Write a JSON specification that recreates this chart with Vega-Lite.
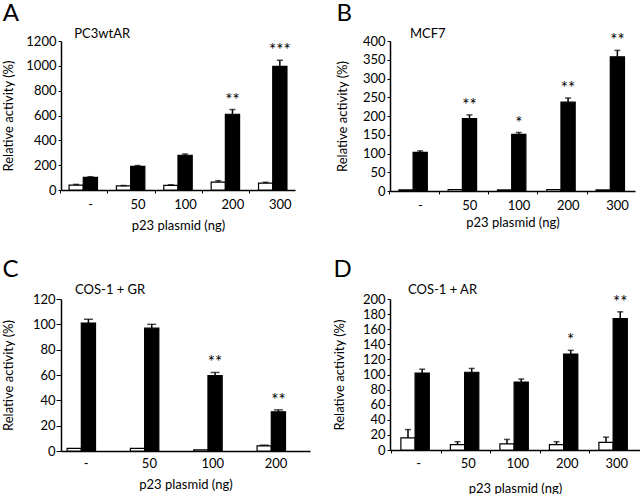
{
 "$schema": "https://vega.github.io/schema/vega-lite/v6.json",
 "padding": {"left": 2, "top": 2, "right": 0, "bottom": 0},
 "background": "white",
 "config": {
  "font": "Lato",
  "view": {"stroke": null},
  "axis": {"labelFont": "Lato", "titleFont": "Lato", "labelFontSize": 13, "titleFontSize": 13, "titleFontWeight": "normal", "labelColor": "black", "titleColor": "black", "domainColor": "black", "tickColor": "black", "domainWidth": 1.5, "tickWidth": 1, "grid": false, "labelOverlap": false},
  "axisY": {"format": "d", "labelOverlap": false, "labelPadding": 2},
  "title": {"font": "Lato", "fontSize": 24, "fontWeight": "normal", "anchor": "start", "frame": "bounds", "color": "black"}
 },
 "datasets": {
  "bars": [
   {"panel": "A", "dose": "-", "series": "vehicle", "value": 40, "hi": 45, "star": ""},
   {"panel": "A", "dose": "-", "series": "hormone", "value": 102, "hi": 107, "star": ""},
   {"panel": "A", "dose": "50", "series": "vehicle", "value": 33, "hi": 36, "star": ""},
   {"panel": "A", "dose": "50", "series": "hormone", "value": 190, "hi": 197, "star": ""},
   {"panel": "A", "dose": "100", "series": "vehicle", "value": 38, "hi": 42, "star": ""},
   {"panel": "A", "dose": "100", "series": "hormone", "value": 280, "hi": 290, "star": ""},
   {"panel": "A", "dose": "200", "series": "vehicle", "value": 63, "hi": 75, "star": ""},
   {"panel": "A", "dose": "200", "series": "hormone", "value": 610, "hi": 648, "star": "**"},
   {"panel": "A", "dose": "300", "series": "vehicle", "value": 55, "hi": 62, "star": ""},
   {"panel": "A", "dose": "300", "series": "hormone", "value": 995, "hi": 1045, "star": "***"},
   {"panel": "B", "dose": "-", "series": "vehicle", "value": 3, "hi": 3, "star": ""},
   {"panel": "B", "dose": "-", "series": "hormone", "value": 103, "hi": 107, "star": ""},
   {"panel": "B", "dose": "50", "series": "vehicle", "value": 4, "hi": 4, "star": ""},
   {"panel": "B", "dose": "50", "series": "hormone", "value": 193, "hi": 203, "star": "**"},
   {"panel": "B", "dose": "100", "series": "vehicle", "value": 3, "hi": 3, "star": ""},
   {"panel": "B", "dose": "100", "series": "hormone", "value": 151, "hi": 156, "star": "*"},
   {"panel": "B", "dose": "200", "series": "vehicle", "value": 4, "hi": 4, "star": ""},
   {"panel": "B", "dose": "200", "series": "hormone", "value": 237, "hi": 248, "star": "**"},
   {"panel": "B", "dose": "300", "series": "vehicle", "value": 3, "hi": 3, "star": ""},
   {"panel": "B", "dose": "300", "series": "hormone", "value": 358, "hi": 375, "star": "**"},
   {"panel": "C", "dose": "-", "series": "vehicle", "value": 2, "hi": 2, "star": ""},
   {"panel": "C", "dose": "-", "series": "hormone", "value": 101, "hi": 104, "star": ""},
   {"panel": "C", "dose": "50", "series": "vehicle", "value": 2, "hi": 2, "star": ""},
   {"panel": "C", "dose": "50", "series": "hormone", "value": 97, "hi": 100, "star": ""},
   {"panel": "C", "dose": "100", "series": "vehicle", "value": 1, "hi": 1, "star": ""},
   {"panel": "C", "dose": "100", "series": "hormone", "value": 59.5, "hi": 62, "star": "**"},
   {"panel": "C", "dose": "200", "series": "vehicle", "value": 4, "hi": 4.6, "star": ""},
   {"panel": "C", "dose": "200", "series": "hormone", "value": 31, "hi": 32.5, "star": "**"},
   {"panel": "D", "dose": "-", "series": "vehicle", "value": 16, "hi": 27, "star": ""},
   {"panel": "D", "dose": "-", "series": "hormone", "value": 102, "hi": 107, "star": ""},
   {"panel": "D", "dose": "50", "series": "vehicle", "value": 7, "hi": 11, "star": ""},
   {"panel": "D", "dose": "50", "series": "hormone", "value": 103, "hi": 108, "star": ""},
   {"panel": "D", "dose": "100", "series": "vehicle", "value": 8, "hi": 14, "star": ""},
   {"panel": "D", "dose": "100", "series": "hormone", "value": 90, "hi": 94, "star": ""},
   {"panel": "D", "dose": "200", "series": "vehicle", "value": 7, "hi": 11, "star": ""},
   {"panel": "D", "dose": "200", "series": "hormone", "value": 127, "hi": 132, "star": "*"},
   {"panel": "D", "dose": "300", "series": "vehicle", "value": 10, "hi": 17, "star": ""},
   {"panel": "D", "dose": "300", "series": "hormone", "value": 174, "hi": 183, "star": "**"}
  ],
  "notes": [
   {"panel": "A", "label": "PC3wtAR"},
   {"panel": "B", "label": "MCF7"},
   {"panel": "C", "label": "COS-1 + GR"},
   {"panel": "D", "label": "COS-1 + AR"}
  ]
 },
 "vconcat": [
  {"hconcat": [
   {
    "width": 234, "height": 149,
    "title": {"text": "A", "offset": 2},
    "encoding": {"x": {"field": "dose", "type": "nominal", "sort": ["-", "50", "100", "200", "300"], "scale": {"paddingInner": 0.4, "paddingOuter": 0.17}, "axis": {"title": "p23 plasmid (ng)", "labelAngle": 0, "tickSize": 3, "bandPosition": 0.5, "tickOffset": -23.5, "labelOffset": 30.5, "labelPadding": 5, "titlePadding": 8}}},
    "layer": [
     {"data": {"name": "bars"}, "transform": [{"filter": "datum.panel == 'A'"}],
      "mark": {"type": "bar", "stroke": "black", "strokeWidth": 1.2},
      "encoding": {
       "xOffset": {"field": "series", "type": "nominal", "sort": ["vehicle", "hormone"], "scale": {"domain": ["vehicle", "hormone"], "paddingInner": 0, "paddingOuter": 0}},
       "y": {"field": "value", "type": "quantitative", "scale": {"domain": [0, 1200], "nice": false}, "axis": {"title": "Relative activity (%)", "values": [0, 200, 400, 600, 800, 1000, 1200], "format": "d", "labelOverlap": false, "tickSize": 3, "titlePadding": 10}},
       "fill": {"field": "series", "type": "nominal", "scale": {"domain": ["vehicle", "hormone"], "range": ["white", "black"]}, "legend": null}}},
     {"data": {"name": "bars"}, "transform": [{"filter": "datum.panel == 'A'"}],
      "mark": {"type": "rule", "color": "black", "strokeWidth": 1.5},
      "encoding": {"xOffset": {"field": "series", "type": "nominal"}, "y": {"field": "value", "type": "quantitative", "axis": {"title": "Relative activity (%)", "values": [0, 200, 400, 600, 800, 1000, 1200], "format": "d", "labelOverlap": false, "tickSize": 3, "titlePadding": 10}}, "y2": {"field": "hi"}}},
     {"data": {"name": "bars"}, "transform": [{"filter": "datum.panel == 'A'"}],
      "mark": {"type": "tick", "orient": "horizontal", "color": "black", "size": 6, "thickness": 1.5},
      "encoding": {"xOffset": {"field": "series", "type": "nominal"}, "y": {"field": "hi", "type": "quantitative", "axis": {"title": "Relative activity (%)", "values": [0, 200, 400, 600, 800, 1000, 1200], "format": "d", "labelOverlap": false, "tickSize": 3, "titlePadding": 10}}}},
     {"data": {"name": "bars"}, "transform": [{"filter": "datum.panel == 'A' && datum.star != ''"}],
      "mark": {"type": "text", "baseline": "bottom", "dy": 0, "fontSize": 17, "color": "black"},
      "encoding": {"xOffset": {"field": "series", "type": "nominal"}, "y": {"field": "hi", "type": "quantitative", "axis": {"title": "Relative activity (%)", "values": [0, 200, 400, 600, 800, 1000, 1200], "format": "d", "labelOverlap": false, "tickSize": 3, "titlePadding": 10}}, "text": {"field": "star"}}},
     {"data": {"name": "notes"}, "transform": [{"filter": "datum.panel == 'A'"}],
      "mark": {"type": "text", "align": "left", "baseline": "alphabetic", "dx": -9, "dy": -3, "fontSize": 13, "color": "black"},
      "encoding": {"x": {"datum": "-", "type": "nominal"}, "y": {"datum": 1200, "type": "quantitative", "axis": {"title": "Relative activity (%)", "values": [0, 200, 400, 600, 800, 1000, 1200], "format": "d", "labelOverlap": false, "tickSize": 3, "titlePadding": 10}}, "text": {"field": "label"}}}
    ]
   },
   {
    "width": 245, "height": 150,
    "title": {"text": "B", "offset": 2},
    "encoding": {"x": {"field": "dose", "type": "nominal", "sort": ["-", "50", "100", "200", "300"], "scale": {"paddingInner": 0.39, "paddingOuter": 0.18}, "axis": {"title": "p23 plasmid (ng)", "labelAngle": 0, "tickSize": 3, "bandPosition": 0.5, "tickOffset": -24.5, "labelOffset": 30.5, "labelPadding": 5, "titlePadding": 4}}},
    "layer": [
     {"data": {"name": "bars"}, "transform": [{"filter": "datum.panel == 'B'"}],
      "mark": {"type": "bar", "stroke": "black", "strokeWidth": 1.2},
      "encoding": {
       "xOffset": {"field": "series", "type": "nominal", "sort": ["vehicle", "hormone"], "scale": {"domain": ["vehicle", "hormone"], "paddingInner": 0, "paddingOuter": 0}},
       "y": {"field": "value", "type": "quantitative", "scale": {"domain": [0, 400], "nice": false}, "axis": {"title": "Relative activity (%)", "values": [0, 50, 100, 150, 200, 250, 300, 350, 400], "format": "d", "labelOverlap": false, "tickSize": 3, "titlePadding": 13}},
       "fill": {"field": "series", "type": "nominal", "scale": {"domain": ["vehicle", "hormone"], "range": ["white", "black"]}, "legend": null}}},
     {"data": {"name": "bars"}, "transform": [{"filter": "datum.panel == 'B' && datum.hi > datum.value"}],
      "mark": {"type": "rule", "color": "black", "strokeWidth": 1.5},
      "encoding": {"xOffset": {"field": "series", "type": "nominal"}, "y": {"field": "value", "type": "quantitative", "axis": {"title": "Relative activity (%)", "values": [0, 50, 100, 150, 200, 250, 300, 350, 400], "format": "d", "labelOverlap": false, "tickSize": 3, "titlePadding": 13}}, "y2": {"field": "hi"}}},
     {"data": {"name": "bars"}, "transform": [{"filter": "datum.panel == 'B' && datum.hi > datum.value"}],
      "mark": {"type": "tick", "orient": "horizontal", "color": "black", "size": 6, "thickness": 1.5},
      "encoding": {"xOffset": {"field": "series", "type": "nominal"}, "y": {"field": "hi", "type": "quantitative", "axis": {"title": "Relative activity (%)", "values": [0, 50, 100, 150, 200, 250, 300, 350, 400], "format": "d", "labelOverlap": false, "tickSize": 3, "titlePadding": 13}}}},
     {"data": {"name": "bars"}, "transform": [{"filter": "datum.panel == 'B' && datum.star != ''"}],
      "mark": {"type": "text", "baseline": "bottom", "dy": 0, "fontSize": 17, "color": "black"},
      "encoding": {"xOffset": {"field": "series", "type": "nominal"}, "y": {"field": "hi", "type": "quantitative", "axis": {"title": "Relative activity (%)", "values": [0, 50, 100, 150, 200, 250, 300, 350, 400], "format": "d", "labelOverlap": false, "tickSize": 3, "titlePadding": 13}}, "text": {"field": "star"}}},
     {"data": {"name": "notes"}, "transform": [{"filter": "datum.panel == 'B'"}],
      "mark": {"type": "text", "align": "left", "baseline": "alphabetic", "dx": -4, "dy": -3, "fontSize": 13, "color": "black"},
      "encoding": {"x": {"datum": "-", "type": "nominal"}, "y": {"datum": 400, "type": "quantitative", "axis": {"title": "Relative activity (%)", "values": [0, 50, 100, 150, 200, 250, 300, 350, 400], "format": "d", "labelOverlap": false, "tickSize": 3, "titlePadding": 13}}, "text": {"field": "label"}}}
    ]
   }
  ], "spacing": 41},
  {"hconcat": [
   {
    "width": 249, "height": 152,
    "title": {"text": "C", "offset": 2},
    "encoding": {"x": {"field": "dose", "type": "nominal", "sort": ["-", "50", "100", "200"], "scale": {"paddingInner": 0.4, "paddingOuter": 0.166, "align": 0.29}, "axis": {"title": "p23 plasmid (ng)", "labelAngle": 0, "ticks": false, "labelPadding": 6, "titlePadding": 8}}},
    "layer": [
     {"data": {"name": "bars"}, "transform": [{"filter": "datum.panel == 'C'"}],
      "mark": {"type": "bar", "stroke": "black", "strokeWidth": 1.2},
      "encoding": {
       "xOffset": {"field": "series", "type": "nominal", "sort": ["vehicle", "hormone"], "scale": {"domain": ["vehicle", "hormone"], "paddingInner": 0.4, "paddingOuter": 0}},
       "y": {"field": "value", "type": "quantitative", "scale": {"domain": [0, 120], "nice": false}, "axis": {"title": "Relative activity (%)", "values": [0, 20, 40, 60, 80, 100, 120], "format": "d", "labelOverlap": false, "tickSize": 5, "labelPadding": 1, "titlePadding": 17}},
       "fill": {"field": "series", "type": "nominal", "scale": {"domain": ["vehicle", "hormone"], "range": ["white", "black"]}, "legend": null}}},
     {"data": {"name": "bars"}, "transform": [{"filter": "datum.panel == 'C' && datum.hi > datum.value"}],
      "mark": {"type": "rule", "color": "black", "strokeWidth": 1.5},
      "encoding": {"xOffset": {"field": "series", "type": "nominal"}, "y": {"field": "value", "type": "quantitative", "axis": {"title": "Relative activity (%)", "values": [0, 20, 40, 60, 80, 100, 120], "format": "d", "labelOverlap": false, "tickSize": 5, "labelPadding": 1, "titlePadding": 17}}, "y2": {"field": "hi"}}},
     {"data": {"name": "bars"}, "transform": [{"filter": "datum.panel == 'C' && datum.hi > datum.value"}],
      "mark": {"type": "tick", "orient": "horizontal", "color": "black", "size": 9, "thickness": 1.5},
      "encoding": {"xOffset": {"field": "series", "type": "nominal"}, "y": {"field": "hi", "type": "quantitative", "axis": {"title": "Relative activity (%)", "values": [0, 20, 40, 60, 80, 100, 120], "format": "d", "labelOverlap": false, "tickSize": 5, "labelPadding": 1, "titlePadding": 17}}}},
     {"data": {"name": "bars"}, "transform": [{"filter": "datum.panel == 'C' && datum.star != ''"}],
      "mark": {"type": "text", "baseline": "bottom", "dy": 0, "fontSize": 17, "color": "black"},
      "encoding": {"xOffset": {"field": "series", "type": "nominal"}, "y": {"field": "hi", "type": "quantitative", "axis": {"title": "Relative activity (%)", "values": [0, 20, 40, 60, 80, 100, 120], "format": "d", "labelOverlap": false, "tickSize": 5, "labelPadding": 1, "titlePadding": 17}}, "text": {"field": "star"}}},
     {"data": {"name": "notes"}, "transform": [{"filter": "datum.panel == 'C'"}],
      "mark": {"type": "text", "align": "left", "baseline": "alphabetic", "dx": -11, "dy": -5, "fontSize": 13, "color": "black"},
      "encoding": {"x": {"datum": "-", "type": "nominal"}, "y": {"datum": 120, "type": "quantitative", "axis": {"title": "Relative activity (%)", "values": [0, 20, 40, 60, 80, 100, 120], "format": "d", "labelOverlap": false, "tickSize": 5, "labelPadding": 1, "titlePadding": 17}}, "text": {"field": "label"}}}
    ]
   },
   {
    "width": 250, "height": 151,
    "title": {"text": "D", "offset": 2},
    "encoding": {"x": {"field": "dose", "type": "nominal", "sort": ["-", "50", "100", "200", "300"], "scale": {"paddingInner": 0.39, "paddingOuter": 0.22}, "axis": {"title": "p23 plasmid (ng)", "labelAngle": 0, "tickSize": 3, "bandPosition": 0.5, "tickOffset": -24.7, "labelOffset": 27, "labelPadding": 4, "titlePadding": 12}}},
    "layer": [
     {"data": {"name": "bars"}, "transform": [{"filter": "datum.panel == 'D'"}],
      "mark": {"type": "bar", "stroke": "black", "strokeWidth": 1.2},
      "encoding": {
       "xOffset": {"field": "series", "type": "nominal", "sort": ["vehicle", "hormone"], "scale": {"domain": ["vehicle", "hormone"], "paddingInner": 0, "paddingOuter": 0}},
       "y": {"field": "value", "type": "quantitative", "scale": {"domain": [0, 200], "nice": false}, "axis": {"title": "Relative activity (%)", "values": [0, 20, 40, 60, 80, 100, 120, 140, 160, 180, 200], "format": "d", "labelOverlap": false, "tickSize": 3, "titlePadding": 16}},
       "fill": {"field": "series", "type": "nominal", "scale": {"domain": ["vehicle", "hormone"], "range": ["white", "black"]}, "legend": null}}},
     {"data": {"name": "bars"}, "transform": [{"filter": "datum.panel == 'D' && datum.hi > datum.value"}],
      "mark": {"type": "rule", "color": "black", "strokeWidth": 1.5},
      "encoding": {"xOffset": {"field": "series", "type": "nominal"}, "y": {"field": "value", "type": "quantitative", "axis": {"title": "Relative activity (%)", "values": [0, 20, 40, 60, 80, 100, 120, 140, 160, 180, 200], "format": "d", "labelOverlap": false, "tickSize": 3, "titlePadding": 16}}, "y2": {"field": "hi"}}},
     {"data": {"name": "bars"}, "transform": [{"filter": "datum.panel == 'D' && datum.hi > datum.value"}],
      "mark": {"type": "tick", "orient": "horizontal", "color": "black", "size": 6, "thickness": 1.5},
      "encoding": {"xOffset": {"field": "series", "type": "nominal"}, "y": {"field": "hi", "type": "quantitative", "axis": {"title": "Relative activity (%)", "values": [0, 20, 40, 60, 80, 100, 120, 140, 160, 180, 200], "format": "d", "labelOverlap": false, "tickSize": 3, "titlePadding": 16}}}},
     {"data": {"name": "bars"}, "transform": [{"filter": "datum.panel == 'D' && datum.star != ''"}],
      "mark": {"type": "text", "baseline": "bottom", "dy": 0, "fontSize": 17, "color": "black"},
      "encoding": {"xOffset": {"field": "series", "type": "nominal"}, "y": {"field": "hi", "type": "quantitative", "axis": {"title": "Relative activity (%)", "values": [0, 20, 40, 60, 80, 100, 120, 140, 160, 180, 200], "format": "d", "labelOverlap": false, "tickSize": 3, "titlePadding": 16}}, "text": {"field": "star"}}},
     {"data": {"name": "notes"}, "transform": [{"filter": "datum.panel == 'D'"}],
      "mark": {"type": "text", "align": "left", "baseline": "alphabetic", "dx": -8, "dy": -5, "fontSize": 13, "color": "black"},
      "encoding": {"x": {"datum": "-", "type": "nominal"}, "y": {"datum": 200, "type": "quantitative", "axis": {"title": "Relative activity (%)", "values": [0, 20, 40, 60, 80, 100, 120, 140, 160, 180, 200], "format": "d", "labelOverlap": false, "tickSize": 3, "titlePadding": 16}}, "text": {"field": "label"}}}
    ]
   }
  ], "spacing": 23}
 ],
 "spacing": 26
}
